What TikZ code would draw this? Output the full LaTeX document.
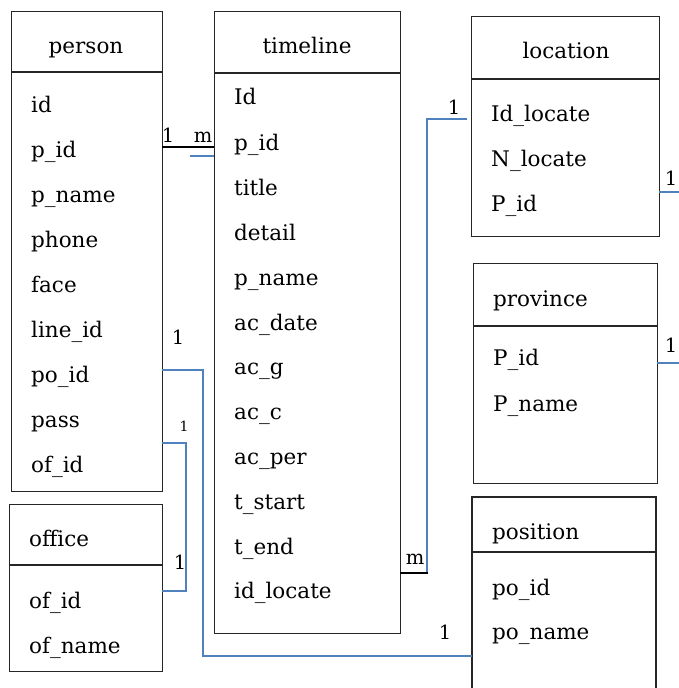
\documentclass[tikz,border=0pt]{standalone}
\usepackage{fontspec}
\setmainfont{DejaVu Serif}
\definecolor{linkblue}{HTML}{4F81BD}
\begin{document}
\begin{tikzpicture}[x=1pt,y=-1pt,
  tbl/.style={draw=black!85,line width=1.4pt,anchor=north west,inner sep=0pt},
  hdr/.style={draw=black!85,line width=1.4pt},
  fld/.style={anchor=base west,inner sep=0pt,font=\fontsize{21.5}{24}\selectfont},
  ttl/.style={anchor=base,inner sep=0pt,font=\fontsize{21.5}{24}\selectfont},
  ttlw/.style={anchor=base west,inner sep=0pt,font=\fontsize{21.5}{24}\selectfont},
  card/.style={anchor=base,inner sep=0pt,font=\fontsize{19.5}{22}\selectfont},
  rel/.style={draw=linkblue,line width=1.8pt},
  relk/.style={draw=black,line width=2pt}]
\useasboundingbox (0,0) rectangle (678,688);
% tables
\node[tbl,minimum width=151pt,minimum height=480pt] (person) at (11,11) {};
\draw[hdr] (11,72) -- (162,72);
\node[ttl] (personT) at (86,53) {person};
\foreach \t/\y [count=\i] in {id/112,p\_id/157,p\_name/202,phone/247,face/292,line\_id/337,po\_id/382,pass/427,of\_id/472}
  \node[fld] (pf\i) at (31,\y) {\t};

\node[tbl,minimum width=186pt,minimum height=622pt] (timeline) at (214,11) {};
\draw[hdr] (214,73) -- (400,73);
\node[ttl] (timelineT) at (307,53) {timeline};
\foreach \t/\y [count=\i] in {Id/104,p\_id/150,title/195,detail/240,p\_name/285,ac\_date/330,ac\_g/374,ac\_c/419,ac\_per/464,t\_start/509,t\_end/554,id\_locate/598}
  \node[fld] (tf\i) at (234,\y) {\t};

\node[tbl,minimum width=188pt,minimum height=220pt] (location) at (471,16) {};
\draw[hdr] (471,79) -- (659,79);
\node[ttl] (locationT) at (566,58) {location};
\foreach \t/\y [count=\i] in {Id\_locate/121,N\_locate/166,P\_id/211}
  \node[fld] (lf\i) at (491,\y) {\t};

\node[tbl,minimum width=184pt,minimum height=220pt] (province) at (473,263) {};
\draw[hdr] (473,326) -- (657,326);
\node[ttlw] (provinceT) at (493,306) {province};
\foreach \t/\y [count=\i] in {P\_id/365,P\_name/411}
  \node[fld] (prf\i) at (493,\y) {\t};

\draw[hdr] (472,690) -- (472,497) -- (656,497) -- (656,690);
\draw[hdr] (472,552) -- (656,552);
\node[ttlw] (positionT) at (492,539) {position};
\foreach \t/\y [count=\i] in {po\_id/595,po\_name/639}
  \node[fld] (psf\i) at (492,\y) {\t};

\node[tbl,minimum width=153pt,minimum height=167pt] (office) at (9,504) {};
\draw[hdr] (9,565) -- (162,565);
\node[ttlw] (officeT) at (29,546) {office};
\foreach \t/\y [count=\i] in {of\_id/608,of\_name/653}
  \node[fld] (of\i) at (29,\y) {\t};

% connectors
\coordinate (a1) at (162,147); \coordinate (a2) at (214,147);
\draw[relk] (a1) -- (a2);
\coordinate (b1) at (190,156); \coordinate (b2) at (214,156);
\draw[rel] (b1) -- (b2);
\node[card] (c1) at (168,142) {1};
\node[card] (cm1) at (203,142) {m};

\coordinate (l1) at (467,119); \coordinate (l2) at (427,119); \coordinate (l3) at (427,573);
\draw[rel] (l1) -- (l2) -- (l3);
\coordinate (l4) at (400,573); \coordinate (l5) at (428,573);
\draw[relk] (l4) -- (l5);
\node[card] (c2) at (454,114) {1};
\node[card] (cm2) at (415,564) {m};

\coordinate (r1) at (659,192); \coordinate (r2) at (680,192);
\draw[rel] (r1) -- (r2);
\node[card] (c3) at (671,185) {1};
\coordinate (r3) at (657,363); \coordinate (r4) at (680,363);
\draw[rel] (r3) -- (r4);
\node[card] (c4) at (671,352) {1};

\coordinate (p1) at (162,370); \coordinate (p2) at (203,370); \coordinate (p3) at (203,656); \coordinate (p4) at (472,656);
\draw[rel] (p1) -- (p2) -- (p3) -- (p4);
\node[card] (c5) at (178,344) {1};
\node[card] (c6) at (445,639) {1};

\coordinate (o1) at (162,443); \coordinate (o2) at (186,443); \coordinate (o3) at (186,591); \coordinate (o4) at (162,591);
\draw[rel] (o1) -- (o2) -- (o3) -- (o4);
\node[card,font=\fontsize{14}{16}\selectfont] (c7) at (184,431) {1};
\node[card] (c8) at (180,569) {1};
\end{tikzpicture}
\end{document}
